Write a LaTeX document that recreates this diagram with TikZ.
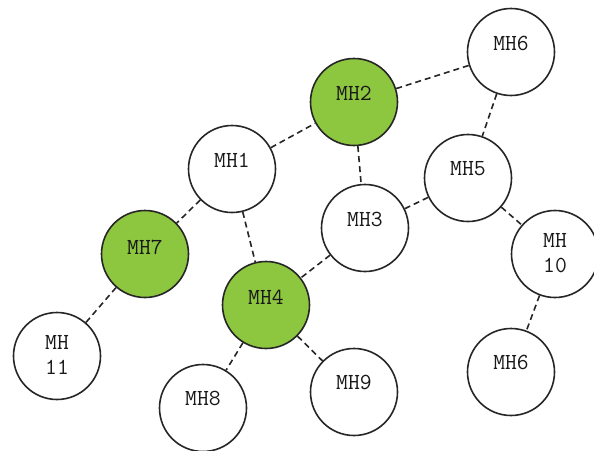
\documentclass[tikz,border=0pt]{standalone}
\begin{document}
\begin{tikzpicture}[x=1pt,y=-1pt,
  mh/.style={circle,draw=black!85,line width=1.6pt,fill=white,minimum size=87pt,inner sep=0pt},
  mhg/.style={mh,fill=mhgreen},
  lab/.style={font=\ttfamily\fontsize{23}{25}\selectfont,text=black!90},
  link/.style={draw=black!85,line width=1.6pt,dash pattern=on 6pt off 4pt}]
\definecolor{mhgreen}{RGB}{141,198,63}
\useasboundingbox (0,0) rectangle (594,450);
\node[mh]  (mh6a) at (511,52)  {};
\node[mhg] (mh2)  at (354,102) {};
\node[mh]  (mh1)  at (232,169) {};
\node[mh]  (mh5)  at (468,178) {};
\node[mh]  (mh3)  at (365,228) {};
\node[mhg] (mh7)  at (145,254) {};
\node[mhg] (mh4)  at (266,305) {};
\node[mh]  (mh10) at (555,254) {};
\node[mh]  (mh11) at (57,356)  {};
\node[mh]  (mh6b) at (511,372) {};
\node[mh]  (mh8)  at (203,408) {};
\node[mh]  (mh9)  at (354,392) {};
\path[link] (mh1) -- (mh2);
\path[link] (mh2) -- (mh6a);
\path[link] (mh2) -- (mh3);
\path[link] (mh6a) -- (mh5);
\path[link] (mh5) -- (mh3);
\path[link] (mh5) -- (mh10);
\path[link] (mh10) -- (mh6b);
\path[link] (mh1) -- (mh7);
\path[link] (mh1) -- (mh4);
\path[link] (mh3) -- (mh4);
\path[link] (mh7) -- (mh11);
\path[link] (mh4) -- (mh8);
\path[link] (mh4) -- (mh9);
\node[lab] (t6a) at ([yshift=9pt]mh6a.center) {MH6};
\node[lab] (t2)  at ([yshift=9pt]mh2.center)  {MH2};
\node[lab] (t1)  at ([yshift=9pt]mh1.center)  {MH1};
\node[lab] (t5)  at ([yshift=9pt]mh5.center)  {MH5};
\node[lab] (t3)  at ([yshift=9pt]mh3.center)  {MH3};
\node[lab] (t7)  at ([yshift=7pt]mh7.center)  {MH7};
\node[lab] (t4)  at ([yshift=8pt]mh4.center)  {MH4};
\node[lab,align=center] (t10) at ([yshift=1pt]mh10.center) {MH\\10};
\node[lab,align=center] (t11) at ([yshift=1pt]mh11.center) {MH\\11};
\node[lab] (t6b) at ([yshift=10pt]mh6b.center) {MH6};
\node[lab] (t8)  at ([yshift=10pt]mh8.center)  {MH8};
\node[lab] (t9)  at ([yshift=10pt]mh9.center)  {MH9};
\end{tikzpicture}
\end{document}
